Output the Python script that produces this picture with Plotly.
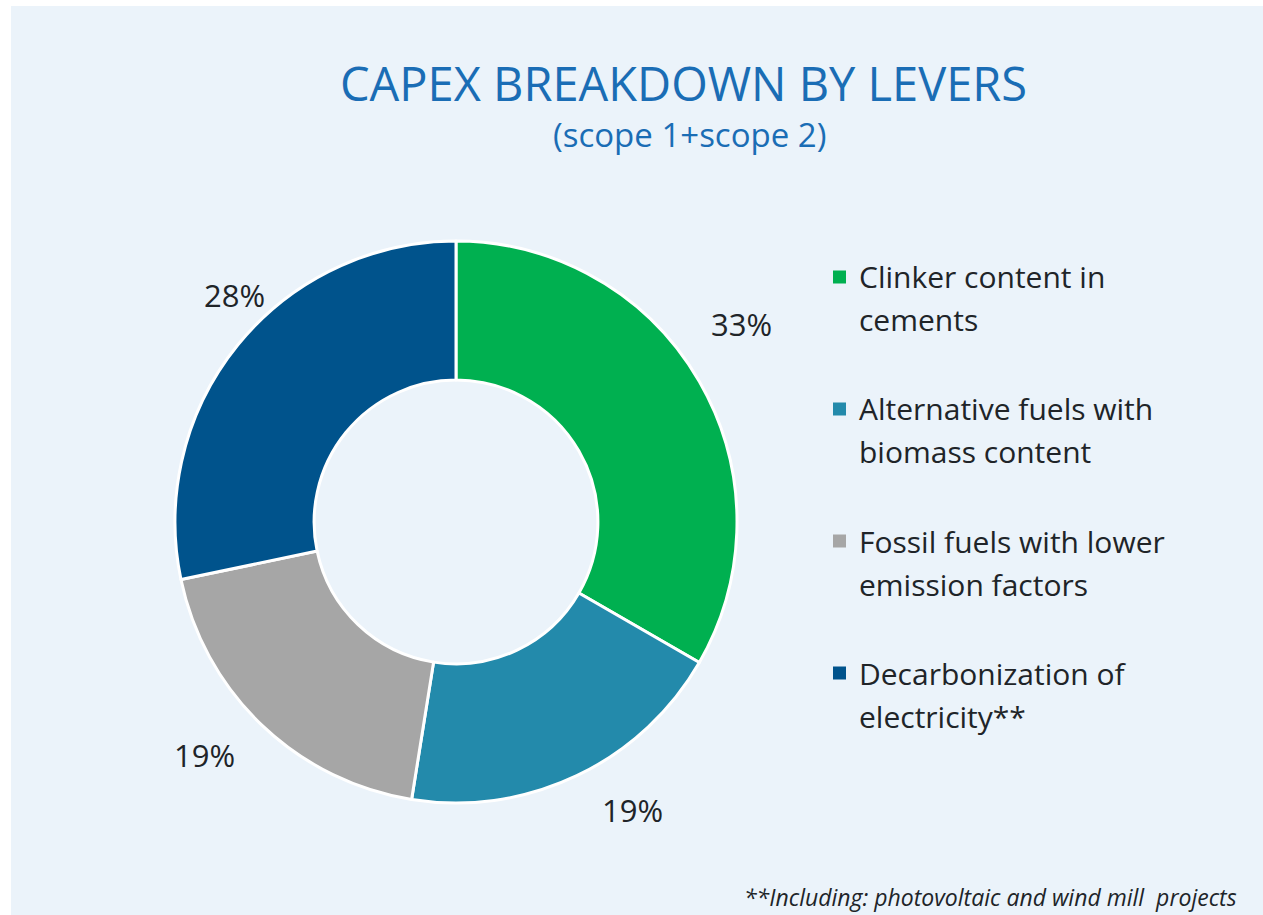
import math
import plotly.graph_objects as go

# CAPEX split by decarbonization lever
levers = [
    "Clinker content in<br>cements",
    "Alternative fuels with<br>biomass content",
    "Fossil fuels with lower<br>emission factors",
    "Decarbonization of<br>electricity**",
]
shares = [33, 19, 19, 28]
colors = ["#00B050", "#238AAB", "#A6A6A6", "#00538C"]

W, H = 1263, 915
BG = "#EBF3FA"
TEXT = "#202428"
TITLE = "#1A6DB5"

# donut geometry in pixels
cx, cy, r = 456, 522, 281
dom_x = [(cx - r) / W, (cx + r) / W]
dom_y = [1 - (cy + r) / H, 1 - (cy - r) / H]

fig = go.Figure()
fig.add_trace(go.Pie(
    labels=[l.replace("<br>", " ") for l in levers],
    values=shares,
    hole=0.505,
    sort=False,
    direction="clockwise",
    rotation=0,
    marker=dict(colors=colors, line=dict(color="white", width=3)),
    textinfo="none",
    hoverinfo="label+percent",
    showlegend=False,
    domain=dict(x=dom_x, y=dom_y),
))

# percentage labels outside each slice, around its mid-angle with a hand nudge
label_r = 335
label_nudge = [(-5, -31), (33, -14), (-20, -9), (39, -16)]
total = sum(shares)
acc = 0
annotations = []
for v, (ndx, ndy) in zip(shares, label_nudge):
    mid = (acc + v / 2) / total * 2 * math.pi
    acc += v
    px = cx + label_r * math.sin(mid) + ndx
    py = cy - label_r * math.cos(mid) + ndy
    annotations.append(dict(
        x=px / W, y=1 - py / H, xref="paper", yref="paper",
        text=f"{round(v / total * 100)}%", showarrow=False,
        font=dict(size=31, color=TEXT), xanchor="center", yanchor="middle",
    ))

# panel background
shapes = [dict(type="rect", xref="paper", yref="paper",
               x0=11 / W, x1=1, y0=0, y1=1 - 6 / H,
               fillcolor=BG, line=dict(width=0), layer="below")]

# custom legend: square swatch + two text lines per lever
leg_x, leg_y0, leg_step, line_gap, sq = 833, 277, 132, 43, 13
for i, (name, c) in enumerate(zip(levers, colors)):
    ty = leg_y0 + i * leg_step
    shapes.append(dict(type="rect", xref="paper", yref="paper",
                       x0=leg_x / W, x1=(leg_x + sq) / W,
                       y0=1 - (ty + sq / 2) / H, y1=1 - (ty - sq / 2) / H,
                       fillcolor=c, line=dict(width=0)))
    for j, line in enumerate(name.split("<br>")):
        annotations.append(dict(
            x=(leg_x + 24) / W, y=1 - (ty + j * line_gap) / H,
            xref="paper", yref="paper",
            text=line, showarrow=False, align="left",
            xanchor="left", yanchor="middle",
            font=dict(size=30, color=TEXT),
        ))

# titles and footnote
annotations.append(dict(x=683 / W, y=1 - 83 / H, xref="paper", yref="paper",
                        text="CAPEX BREAKDOWN BY LEVERS", showarrow=False,
                        font=dict(size=47, color=TITLE),
                        xanchor="center", yanchor="middle"))
annotations.append(dict(x=689 / W, y=1 - 134 / H, xref="paper", yref="paper",
                        text="(scope 1+scope 2)", showarrow=False,
                        font=dict(size=33, color=TITLE),
                        xanchor="center", yanchor="middle"))
annotations.append(dict(x=1239 / W, y=1 - 897 / H, xref="paper", yref="paper",
                        text="<i>**Including: photovoltaic and wind mill  projects</i>",
                        showarrow=False, font=dict(size=23, color=TEXT),
                        xanchor="right", yanchor="middle"))

fig.update_layout(
    width=W, height=H,
    margin=dict(l=0, r=0, t=0, b=0),
    paper_bgcolor="white",
    plot_bgcolor="white",
    font=dict(family="Open Sans, Noto Sans, sans-serif", color=TEXT),
    shapes=shapes,
    annotations=annotations,
)

fig.write_html("out.html")
